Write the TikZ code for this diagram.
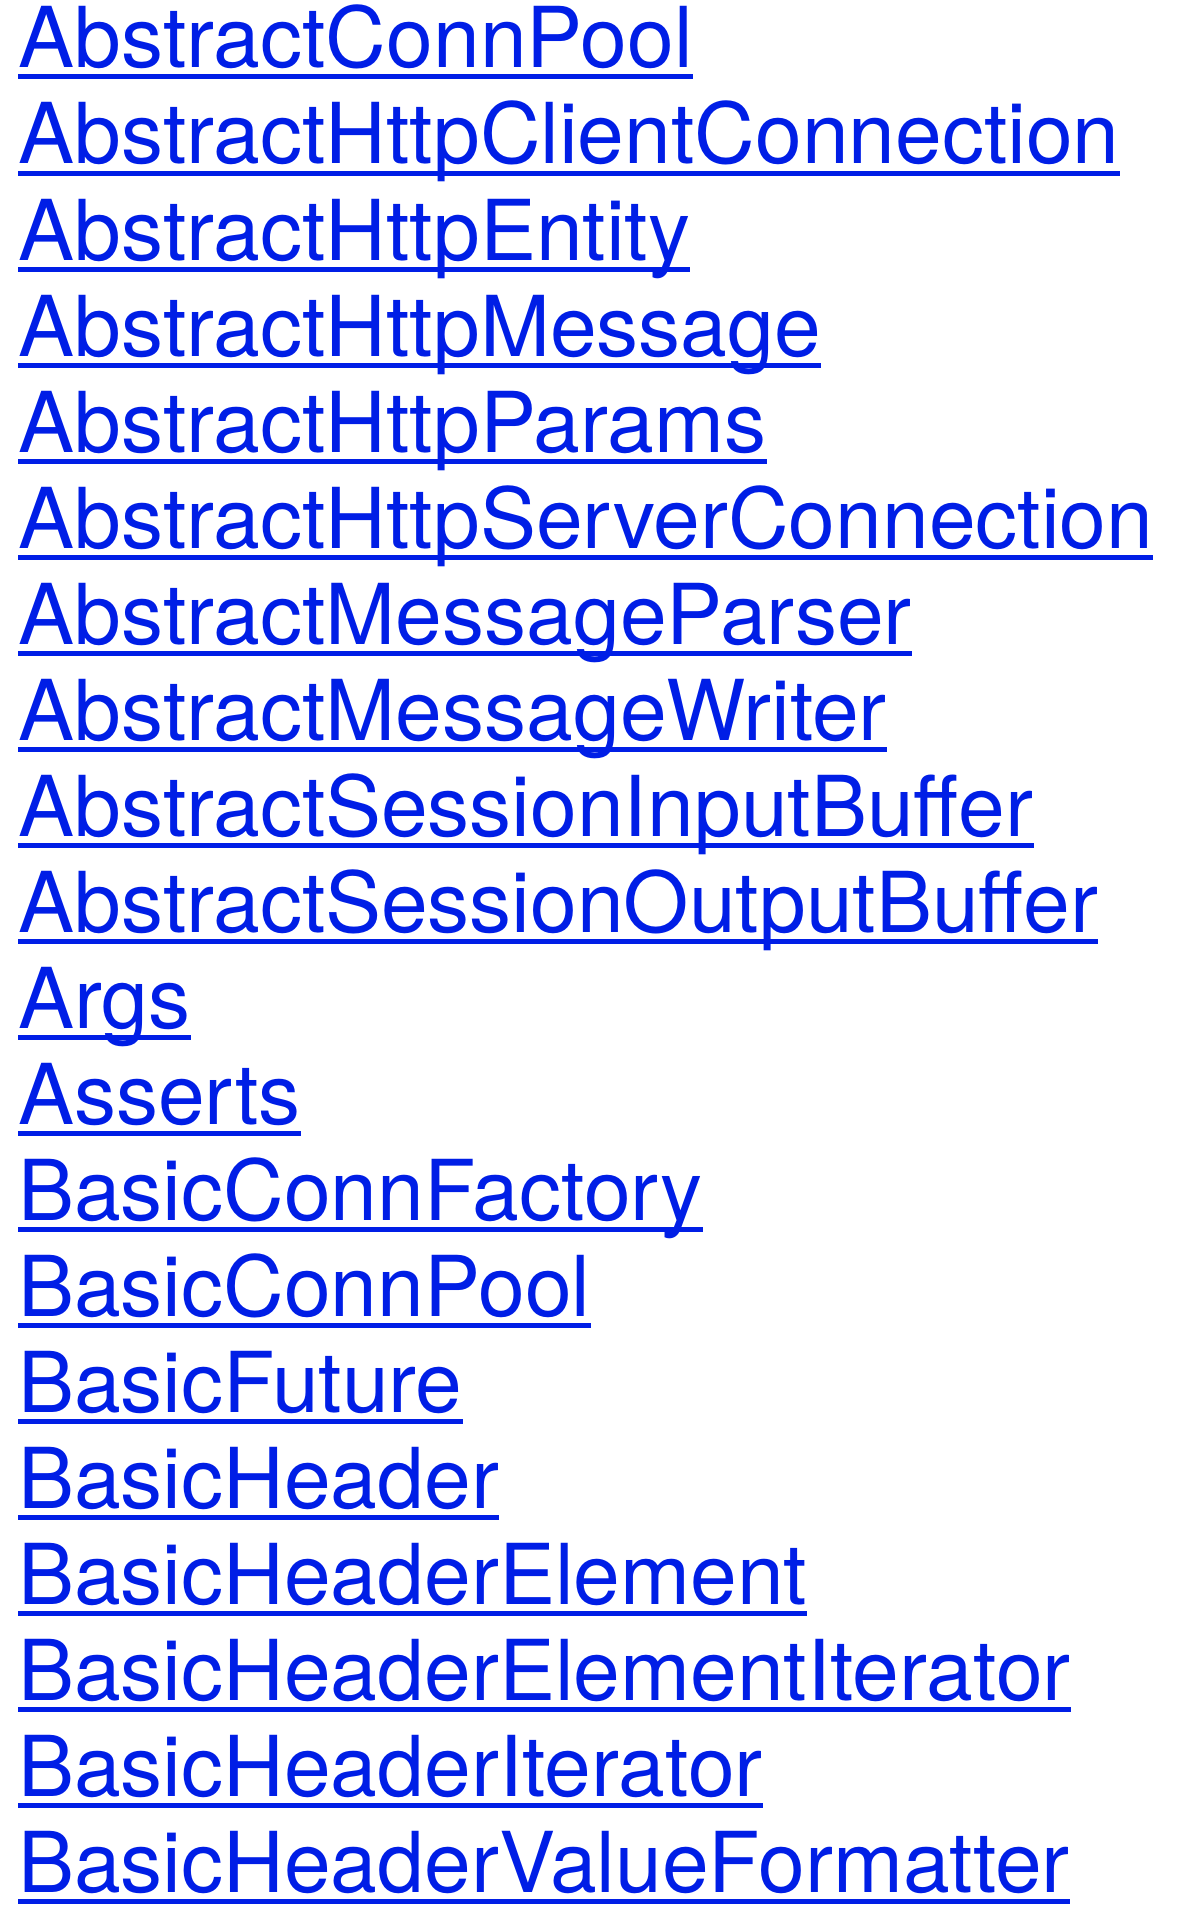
\documentclass[tikz,border=0pt]{standalone}
\usepackage{fontspec}
\setmainfont{TeX Gyre Heros}
\definecolor{linkblue}{RGB}{0,30,230}
\tikzset{
    link/.style={anchor=base west, inner sep=0pt, text=linkblue,
        font=\fontsize{84pt}{96pt}\selectfont},
    uline/.style={draw=linkblue, line width=5pt}
}
\begin{document}
\begin{tikzpicture}[x=1pt,y=1pt]
        \useasboundingbox (0,0) rectangle (1204,-1916);
        \node[link] (a) at (18,-68)   {AbstractConnPool};
        \node[link] (b) at (18,-164)  {AbstractHttpClientConnection};
        \node[link] (c) at (18,-260)  {AbstractHttpEntity};
        \node[link] (d) at (18,-356)  {AbstractHttpMessage};
        \node[link] (e) at (18,-452)  {AbstractHttpParams};
        \node[link] (f) at (18,-548)  {AbstractHttpServerConnection};
        \node[link] (g) at (18,-644)  {AbstractMessageParser};
        \node[link] (h) at (18,-740)  {AbstractMessageWriter};
        \node[link] (i) at (18,-836)  {AbstractSessionInputBuffer};
        \node[link] (j) at (18,-932)  {AbstractSessionOutputBuffer};
        \node[link] (k) at (18,-1028) {Args};
        \node[link] (l) at (18,-1124) {Asserts};
        \node[link] (m) at (18,-1220) {BasicConnFactory};
        \node[link] (n) at (18,-1316) {BasicConnPool};
        \node[link] (o) at (18,-1412) {BasicFuture};
        \node[link] (p) at (18,-1508) {BasicHeader};
        \node[link] (q) at (18,-1604) {BasicHeaderElement};
        \node[link] (r) at (18,-1700) {BasicHeaderElementIterator};
        \node[link] (s) at (18,-1796) {BasicHeaderIterator};
        \node[link] (t) at (18,-1892) {BasicHeaderValueFormatter};
        \draw[uline] ([yshift=-9pt]a.base west) -- ([yshift=-9pt]a.base east);
        \draw[uline] ([yshift=-9pt]b.base west) -- ([yshift=-9pt]b.base east);
        \draw[uline] ([yshift=-9pt]c.base west) -- ([yshift=-9pt]c.base east);
        \draw[uline] ([yshift=-9pt]d.base west) -- ([yshift=-9pt]d.base east);
        \draw[uline] ([yshift=-9pt]e.base west) -- ([yshift=-9pt]e.base east);
        \draw[uline] ([yshift=-9pt]f.base west) -- ([yshift=-9pt]f.base east);
        \draw[uline] ([yshift=-9pt]g.base west) -- ([yshift=-9pt]g.base east);
        \draw[uline] ([yshift=-9pt]h.base west) -- ([yshift=-9pt]h.base east);
        \draw[uline] ([yshift=-9pt]i.base west) -- ([yshift=-9pt]i.base east);
        \draw[uline] ([yshift=-9pt]j.base west) -- ([yshift=-9pt]j.base east);
        \draw[uline] ([yshift=-9pt]k.base west) -- ([yshift=-9pt]k.base east);
        \draw[uline] ([yshift=-9pt]l.base west) -- ([yshift=-9pt]l.base east);
        \draw[uline] ([yshift=-9pt]m.base west) -- ([yshift=-9pt]m.base east);
        \draw[uline] ([yshift=-9pt]n.base west) -- ([yshift=-9pt]n.base east);
        \draw[uline] ([yshift=-9pt]o.base west) -- ([yshift=-9pt]o.base east);
        \draw[uline] ([yshift=-9pt]p.base west) -- ([yshift=-9pt]p.base east);
        \draw[uline] ([yshift=-9pt]q.base west) -- ([yshift=-9pt]q.base east);
        \draw[uline] ([yshift=-9pt]r.base west) -- ([yshift=-9pt]r.base east);
        \draw[uline] ([yshift=-9pt]s.base west) -- ([yshift=-9pt]s.base east);
        \draw[uline] ([yshift=-9pt]t.base west) -- ([yshift=-9pt]t.base east);
    \end{tikzpicture}
\end{document}
